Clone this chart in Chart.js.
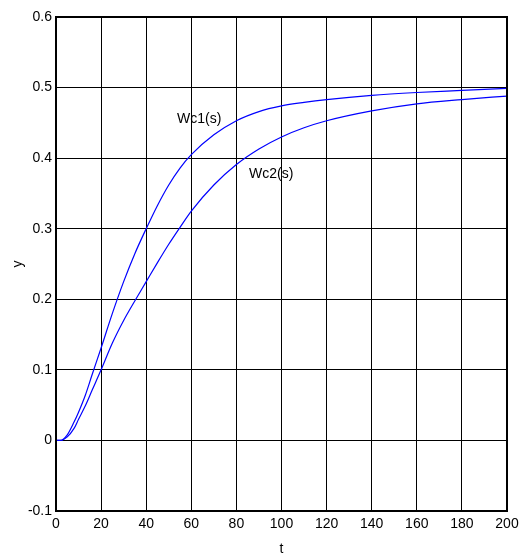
<!DOCTYPE html>
<html>
<head>
<meta charset="utf-8">
<script src="https://cdn.jsdelivr.net/npm/chart.js@4/dist/chart.umd.min.js"></script>
<style>
  html, body { margin: 0; padding: 0; background: #fff; }
  #wrap { width: 525px; height: 558px; }
</style>
</head>
<body>
<div id="wrap"><canvas id="grafica" width="525" height="558"></canvas></div>
<script>
// tiempo t
var tiempo = [0, 2, 5, 8, 10, 13, 16, 20, 25, 30, 35, 40, 45, 50, 55, 60, 70, 80, 90, 100, 110, 120, 140, 160, 180, 200];
// respuesta Wc1(s)
var wc1 = [0, 0, 0.008, 0.026, 0.04, 0.064, 0.093, 0.131, 0.18, 0.225, 0.265, 0.30, 0.333, 0.362, 0.386, 0.405, 0.433, 0.453, 0.466, 0.474, 0.479, 0.483, 0.489, 0.493, 0.496, 0.499];
// respuesta Wc2(s)
var wc2 = [0, 0, 0.005, 0.017, 0.03, 0.049, 0.071, 0.10, 0.138, 0.17, 0.198, 0.225, 0.252, 0.278, 0.302, 0.325, 0.362, 0.391, 0.413, 0.43, 0.443, 0.453, 0.467, 0.477, 0.483, 0.488];

var xTicks = [0, 20, 40, 60, 80, 100, 120, 140, 160, 180, 200];
var yTicks = [-0.1, 0, 0.1, 0.2, 0.3, 0.4, 0.5, 0.6];

// etiquetas de las curvas (texto, t, y)
var etiquetas = [
    { texto: "Wc1(s)", t: 53.7, y: 0.455 },
    { texto: "Wc2(s)", t: 85.6, y: 0.378 }
];

var fuente = "'Liberation Sans', Arial, sans-serif";

function puntos(xs, ys) {
    return xs.map(function (x, i) { return { x: x, y: ys[i] }; });
}

var extras = {
    id: "extras",
    afterDraw: function (chart) {
        var ctx = chart.ctx;
        var a = chart.chartArea;
        var sx = chart.scales.x, sy = chart.scales.y;
        ctx.save();
        // marco
        ctx.strokeStyle = "#000";
        ctx.lineWidth = 2;
        ctx.strokeRect(a.left, a.top, a.right - a.left, a.bottom - a.top);
        ctx.fillStyle = "#000";
        ctx.font = "14px " + fuente;
        // etiquetas de curvas
        ctx.textAlign = "left";
        ctx.textBaseline = "middle";
        etiquetas.forEach(function (e) {
            ctx.fillText(e.texto, sx.getPixelForValue(e.t), sy.getPixelForValue(e.y));
        });
        // titulos de ejes
        ctx.textAlign = "center";
        ctx.fillText("t", (a.left + a.right) / 2, 549);
        ctx.translate(18, (a.top + a.bottom) / 2);
        ctx.rotate(-Math.PI / 2);
        ctx.fillText("y", 0, 0);
        ctx.restore();
    }
};

var ctx = document.getElementById("grafica").getContext("2d");
var chart = new Chart(ctx, {
    type: "line",
    data: {
        datasets: [
            {
                label: "Wc1(s)",
                data: puntos(tiempo, wc1),
                borderColor: "rgb(0, 0, 255)",
                borderWidth: 1.2,
                pointRadius: 0,
                cubicInterpolationMode: "monotone",
                fill: false
            },
            {
                label: "Wc2(s)",
                data: puntos(tiempo, wc2),
                borderColor: "rgb(0, 0, 255)",
                borderWidth: 1.2,
                pointRadius: 0,
                cubicInterpolationMode: "monotone",
                fill: false
            }
        ]
    },
    options: {
        responsive: false,
        animation: false,
        layout: { padding: { top: 17, right: 18, left: 0, bottom: 0 } },
        plugins: { legend: { display: false }, tooltip: { enabled: false } },
        scales: {
            x: {
                type: "linear",
                min: 0,
                max: 200,
                afterBuildTicks: function (s) { s.ticks = xTicks.map(function (v) { return { value: v }; }); },
                afterFit: function (s) { s.height = 47; },
                grid: { color: "#000", lineWidth: 1, drawTicks: false },
                border: { display: false },
                ticks: { color: "#000", padding: 5, maxRotation: 0, font: { family: fuente, size: 14 } }
            },
            y: {
                type: "linear",
                min: -0.1,
                max: 0.6,
                afterBuildTicks: function (s) { s.ticks = yTicks.map(function (v) { return { value: v }; }); },
                afterFit: function (s) { s.width = 56; },
                grid: { color: "#000", lineWidth: 1, drawTicks: false },
                border: { display: false },
                ticks: {
                    color: "#000",
                    padding: 4,
                    font: { family: fuente, size: 14 },
                    callback: function (v) { return Math.round(v * 10) / 10; }
                }
            }
        }
    },
    plugins: [extras]
});
</script>
</body>
</html>
